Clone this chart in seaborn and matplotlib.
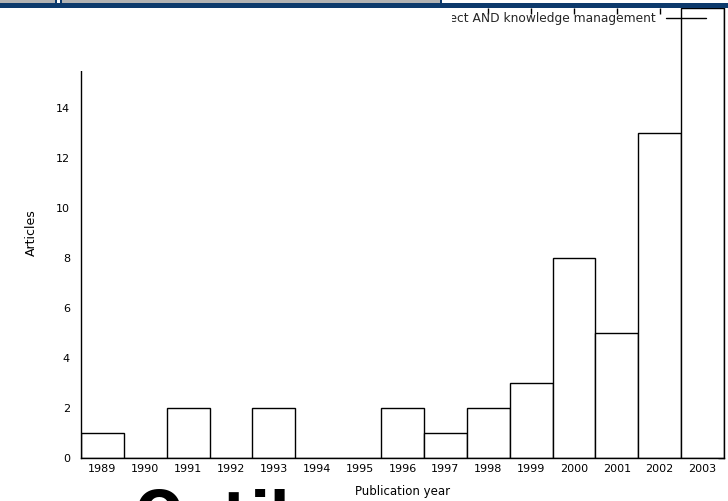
import matplotlib
matplotlib.use("Agg")
import matplotlib.pyplot as plt
from matplotlib.patches import Rectangle
from matplotlib.lines import Line2D
import seaborn as sns
import pandas as pd

years = ["1989", "1990", "1991", "1992", "1993", "1994", "1995", "1996",
         "1997", "1998", "1999", "2000", "2001", "2002", "2003"]
articles = [1, 0, 2, 0, 2, 0, 0, 2, 1, 2, 3, 8, 5, 13, 18]
y_ticks = [0, 2, 4, 6, 8, 10, 12, 14, 16, 18]
series_label = "project AND knowledge management"
x_title = "Publication year"
y_title = "Articles"
overlay_word = "Outil"

sns.set_theme(style="white")
plt.rcParams["font.family"] = ["DejaVu Sans"]

W, H = 728, 501
fig = plt.figure(figsize=(W / 100, H / 100), dpi=100)

def fx(px):
    return px / W

def fy(py):
    return 1 - py / H

ax = fig.add_axes([fx(81), fy(458), fx(724) - fx(81), fy(7.5) - fy(458)])

df = pd.DataFrame({"year": years, "articles": articles})
sns.barplot(data=df, x="year", y="articles", ax=ax, width=1.0,
            color="white", edgecolor="black", linewidth=1.0,
            saturation=1, errorbar=None)

ax.set_xlim(-0.5, len(years) - 0.5)
ax.set_ylim(0, 18)
ax.set_yticks(y_ticks)
ax.set_yticklabels([str(v) for v in y_ticks])
ax.tick_params(axis="both", direction="in", length=4, width=1, color="black",
               labelsize=8, labelcolor="black", top=True, right=True)
ax.tick_params(axis="y", pad=8)
ax.tick_params(axis="x", pad=4)
for side in ["left", "right", "bottom", "top"]:
    ax.spines[side].set_color("black")
    ax.spines[side].set_linewidth(1.0)
ax.spines["top"].set_visible(False)
ax.set_xlabel(x_title, fontsize=8.5, labelpad=8, color="black")
ax.set_ylabel(y_title, fontsize=9, labelpad=13, color="black")

handle = Line2D([], [], color="black", linewidth=1.0)
ax.legend([handle], [series_label], loc="upper right", frameon=False,
          markerfirst=False, fontsize=8.8, handlelength=3.3, handletextpad=0.8,
          borderpad=0, borderaxespad=0,
          bbox_to_anchor=(fx(706), fy(12)), bbox_transform=fig.transFigure)

# white overlay hiding the top-left of the plot
fig.add_artist(Rectangle((0, fy(71)), fx(452), fy(8) - fy(71),
                         transform=fig.transFigure, facecolor="white",
                         edgecolor="none", zorder=10))

# top window strip
grey = "#b3b3b3"
blue = "#0d3a6c"
fig.add_artist(Rectangle((0, fy(3)), fx(441), fy(0) - fy(3), transform=fig.transFigure,
                         facecolor=grey, edgecolor="none", zorder=11))
fig.add_artist(Rectangle((0, fy(8)), 1, fy(3) - fy(8), transform=fig.transFigure,
                         facecolor=blue, edgecolor="none", zorder=12))
fig.add_artist(Rectangle((fx(55), fy(3)), fx(7), fy(0) - fy(3), transform=fig.transFigure,
                         facecolor=blue, edgecolor="none", zorder=12))
fig.add_artist(Rectangle((fx(57), fy(3)), fx(3), fy(0) - fy(3), transform=fig.transFigure,
                         facecolor="white", edgecolor="none", zorder=13))
fig.add_artist(Rectangle((fx(440), fy(3)), fx(2), fy(0) - fy(3), transform=fig.transFigure,
                         facecolor=blue, edgecolor="none", zorder=12))

# large partially visible word at the bottom
fig.text(fx(134), fy(532), overlay_word, fontsize=41, fontweight="bold",
         family=["DejaVu Sans"], color="black",
         ha="left", va="baseline", zorder=14)

fig.savefig("out.png", dpi=100)
